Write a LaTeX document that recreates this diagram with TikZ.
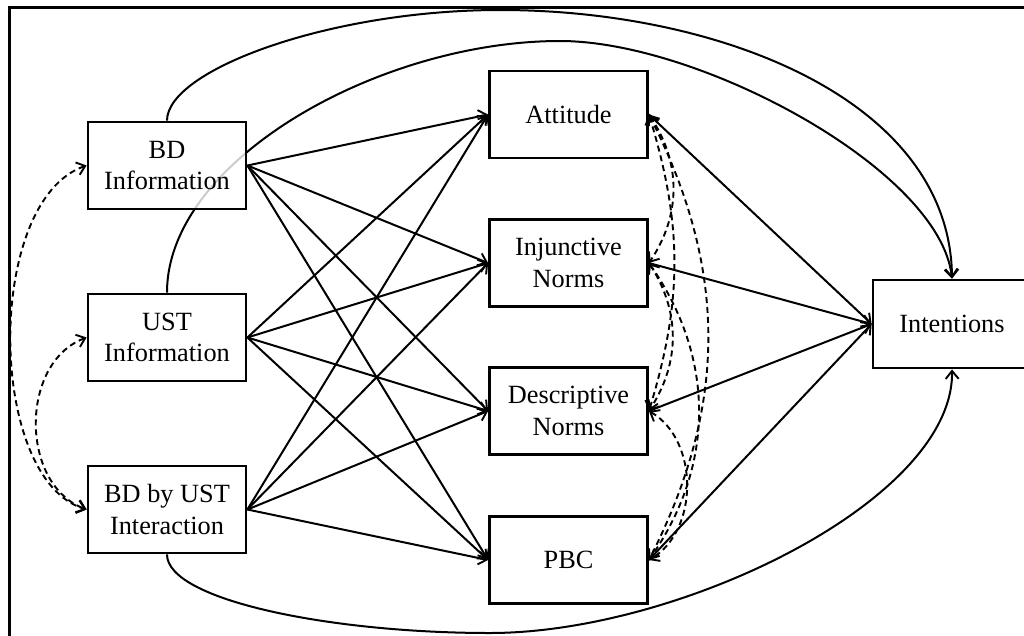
\documentclass[tikz,border=0pt]{standalone}
\usepackage{fontspec}
\setmainfont{Liberation Serif}
\usetikzlibrary{arrows.meta,backgrounds}
\begin{document}
\begin{tikzpicture}[x=1pt,y=-1pt,
  box/.style={draw, line width=2.8pt, fill=white, minimum width=158pt, minimum height=87pt,
    align=center, inner sep=0pt, font=\fontsize{26.3}{31.5}\selectfont},
  tip/.tip={Straight Barb[length=8pt,width=13pt,line width=1.9pt]},
  arr/.style={line width=2pt, -tip},
  corr/.style={line width=1.9pt, dash pattern=on 6pt off 4pt, tip-tip},
  frame/.style={line width=3pt}]
\useasboundingbox (0,0) rectangle (1024,635);
\clip (0,0) rectangle (1024,635);
% frame
\draw[frame] (9,650) -- (9,7) -- (1040,7);
% nodes
\node[box, fill opacity=0.8, text opacity=1] (bd) at (167,165.5) {BD\\Information};
\node[box] (ust) at (167,337.5) {UST\\Information};
\node[box] (bdu) at (167,509.5) {BD by UST\\Interaction};
\node[box] (att) at (568.5,114.5) {Attitude};
\node[box] (inj) at (568.5,263) {Injunctive\\Norms};
\node[box] (desc) at (568.5,411) {Descriptive\\Norms};
\node[box] (pbc) at (568.5,560) {PBC};
\node[box, minimum height=88pt] (int) at (952,324) {Intentions};
% left to mediators
\foreach \s in {bd,ust,bdu}{
  \foreach \t in {att,inj,desc,pbc}{
    \draw[arr] (\s.east) -- (\t.west);
  }
}
% mediators to intentions
\foreach \t in {att,inj,desc,pbc}{
  \draw[arr] (\t.east) -- (int.west);
}
% correlations among mediators
\draw[corr] (att.east) to[bend left=34] (inj.east);
\draw[corr] (att.east) to[bend left=17] (desc.east);
\draw[corr] (att.east) to[bend left=27] (pbc.east);
\draw[corr] (inj.east) to[bend left=33] (desc.east);
\draw[corr] (inj.east) to[bend left=35] (pbc.east);
\draw[corr] (desc.east) to[bend left=60] (pbc.east);
% correlations among predictors
\draw[corr] (bd.west) .. controls +(-102,35) and +(-100,-30) .. (bdu.west);
\draw[corr] (ust.west) .. controls +(-67,25) and +(-67,-25) .. (bdu.west);
% direct paths to intentions
\coordinate (topA) at (500,10);
\coordinate (topB) at (560,41);
\coordinate (botA) at (490,633);
\begin{pgfonlayer}{background}
\draw[arr] (bd.north) .. controls (167,70) and (330,10) .. (topA)
  .. controls (720,10) and (950,100) .. (int.north);
\draw[arr] (ust.north) .. controls (167,160) and (380,41) .. (topB)
  .. controls (700,41) and (940,170) .. (int.north);
\draw[arr] (bdu.south) .. controls (167,600) and (330,633) .. (botA)
  .. controls (680,633) and (954,500) .. (int.south);
\end{pgfonlayer}
\end{tikzpicture}
\end{document}
